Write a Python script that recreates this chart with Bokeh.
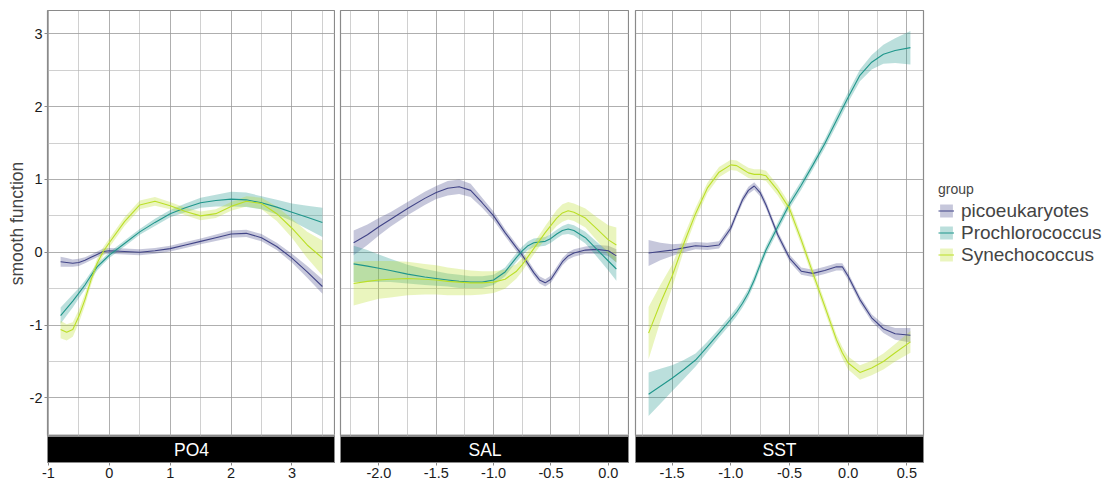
from bokeh.plotting import figure
from bokeh.models import (Range1d, FixedTicker, Grid, LinearAxis, Label, Legend,
                          LegendItem, ColumnDataSource, PrintfTickFormatter)
from bokeh.layouts import row, column
from bokeh.embed import file_html
from bokeh.resources import INLINE

# ---------------- data ----------------
groups = ["picoeukaryotes", "Prochlorococcus", "Synechococcus"]
colors = ["#414487", "#1F968B", "#BBDF27"]
panels = ["PO4", "SAL", "SST"]

y_ticks = [-2, -1, 0, 1, 2, 3]
y_minor = [-2.5, -1.5, -0.5, 0.5, 1.5, 2.5]

po4_ticks = [-1, 0, 1, 2, 3]
po4_minor = [-0.5, 0.5, 1.5, 2.5, 3.5]
sal_ticks = [-2.0, -1.5, -1.0, -0.5, 0.0]
sal_minor = [-2.25, -1.75, -1.25, -0.75, -0.25]
sst_ticks = [-1.5, -1.0, -0.5, 0.0, 0.5]
sst_minor = [-1.75, -1.25, -0.75, -0.25, 0.25]

po4_x = [-0.8, -0.7, -0.6, -0.5, -0.4, -0.3, -0.2, -0.1, 0.0, 0.25, 0.5, 0.75,
         1.0, 1.25, 1.5, 1.75, 2.0, 2.25, 2.5, 2.75, 3.0, 3.25, 3.5]
po4_pico = [-0.13, -0.14, -0.15, -0.14, -0.11, -0.07, -0.03, 0.01, 0.02, 0.01, 0.0, 0.02,
            0.05, 0.10, 0.15, 0.20, 0.25, 0.26, 0.20, 0.08, -0.08, -0.27, -0.47]
po4_pico_se = [0.07, 0.06, 0.05, 0.05, 0.04, 0.04, 0.04, 0.04, 0.04, 0.04, 0.04, 0.04,
               0.04, 0.04, 0.04, 0.045, 0.05, 0.05, 0.05, 0.05, 0.06, 0.08, 0.10]
po4_proc = [-0.87, -0.77, -0.67, -0.56, -0.45, -0.32, -0.20, -0.12, -0.04, 0.12, 0.28, 0.41,
            0.53, 0.61, 0.68, 0.71, 0.73, 0.72, 0.68, 0.62, 0.55, 0.48, 0.41]
po4_proc_se = [0.11, 0.10, 0.09, 0.07, 0.06, 0.05, 0.05, 0.04, 0.04, 0.04, 0.04, 0.05,
               0.05, 0.06, 0.07, 0.08, 0.10, 0.10, 0.09, 0.10, 0.12, 0.16, 0.20]
po4_syne = [-1.06, -1.10, -1.06, -0.88, -0.65, -0.38, -0.15, 0.01, 0.13, 0.42, 0.65, 0.70,
            0.64, 0.56, 0.50, 0.53, 0.63, 0.70, 0.67, 0.53, 0.33, 0.10, -0.08]
po4_syne_se = [0.12, 0.11, 0.10, 0.09, 0.08, 0.07, 0.06, 0.06, 0.06, 0.06, 0.06, 0.06,
               0.05, 0.05, 0.06, 0.06, 0.06, 0.07, 0.08, 0.10, 0.13, 0.18, 0.24]

sal_x = [-2.22, -2.1, -2.0, -1.9, -1.75, -1.6, -1.5, -1.4, -1.3, -1.2, -1.1, -1.0, -0.9, -0.8,
         -0.75, -0.7, -0.65, -0.6, -0.55, -0.5, -0.45, -0.4, -0.35, -0.3, -0.2, -0.1, 0.0, 0.07]
sal_pico = [0.13, 0.24, 0.35, 0.45, 0.60, 0.74, 0.82, 0.88, 0.90, 0.85, 0.68, 0.50, 0.27, 0.06,
            -0.04, -0.16, -0.28, -0.38, -0.42, -0.37, -0.25, -0.13, -0.05, -0.01, 0.03, 0.04, 0.02, -0.05]
sal_pico_se = [0.17, 0.14, 0.12, 0.10, 0.09, 0.09, 0.09, 0.10, 0.10, 0.09, 0.07, 0.06, 0.05, 0.05,
               0.05, 0.05, 0.05, 0.05, 0.05, 0.05, 0.05, 0.05, 0.05, 0.05, 0.05, 0.06, 0.07, 0.09]
sal_proc = [-0.16, -0.19, -0.22, -0.25, -0.30, -0.34, -0.36, -0.38, -0.40, -0.41, -0.41, -0.38, -0.27, -0.07,
            0.02, 0.09, 0.13, 0.14, 0.15, 0.19, 0.25, 0.30, 0.32, 0.30, 0.20, 0.04, -0.12, -0.23]
sal_proc_se = [0.25, 0.22, 0.19, 0.16, 0.13, 0.11, 0.10, 0.09, 0.09, 0.08, 0.08, 0.07, 0.06, 0.06,
               0.06, 0.06, 0.06, 0.06, 0.06, 0.06, 0.06, 0.06, 0.07, 0.07, 0.08, 0.10, 0.13, 0.16]
sal_syne = [-0.43, -0.40, -0.38, -0.37, -0.36, -0.37, -0.38, -0.40, -0.41, -0.42, -0.42, -0.41, -0.37, -0.26,
            -0.17, -0.06, 0.05, 0.16, 0.27, 0.37, 0.47, 0.54, 0.57, 0.55, 0.47, 0.32, 0.17, 0.10]
sal_syne_se = [0.30, 0.28, 0.26, 0.25, 0.23, 0.21, 0.20, 0.19, 0.18, 0.17, 0.16, 0.15, 0.13, 0.10,
               0.09, 0.08, 0.08, 0.08, 0.09, 0.10, 0.11, 0.12, 0.12, 0.12, 0.13, 0.16, 0.20, 0.24]

sst_x = [-1.7, -1.6, -1.5, -1.4, -1.3, -1.2, -1.1, -1.0, -0.95, -0.9, -0.85, -0.8, -0.75, -0.7,
         -0.6, -0.5, -0.4, -0.3, -0.2, -0.1, -0.05, 0.0, 0.1, 0.2, 0.3, 0.4, 0.53]
sst_pico = [-0.01, 0.01, 0.03, 0.06, 0.09, 0.08, 0.10, 0.33, 0.53, 0.72, 0.85, 0.91, 0.82, 0.65,
            0.24, -0.08, -0.26, -0.29, -0.25, -0.20, -0.20, -0.33, -0.65, -0.90, -1.05, -1.12, -1.14]
sst_pico_se = [0.18, 0.12, 0.08, 0.06, 0.05, 0.05, 0.05, 0.05, 0.05, 0.05, 0.05, 0.05, 0.05, 0.05,
               0.05, 0.05, 0.05, 0.05, 0.05, 0.05, 0.05, 0.05, 0.05, 0.05, 0.06, 0.08, 0.10]
sst_proc = [-1.95, -1.84, -1.73, -1.61, -1.48, -1.30, -1.11, -0.92, -0.82, -0.70, -0.56, -0.38, -0.17, 0.03,
            0.35, 0.66, 0.92, 1.20, 1.49, 1.81, 1.97, 2.13, 2.43, 2.61, 2.72, 2.77, 2.81]
sst_proc_se = [0.30, 0.24, 0.18, 0.13, 0.09, 0.07, 0.06, 0.06, 0.06, 0.06, 0.06, 0.06, 0.06, 0.06,
               0.06, 0.06, 0.06, 0.06, 0.06, 0.07, 0.07, 0.07, 0.08, 0.10, 0.13, 0.17, 0.23]
sst_syne = [-1.11, -0.70, -0.33, 0.12, 0.53, 0.88, 1.10, 1.20, 1.19, 1.14, 1.09, 1.07, 1.07, 1.05,
            0.85, 0.60, 0.17, -0.29, -0.74, -1.20, -1.38, -1.52, -1.65, -1.59, -1.50, -1.38, -1.23]
sst_syne_se = [0.36, 0.25, 0.16, 0.10, 0.08, 0.07, 0.07, 0.07, 0.07, 0.07, 0.07, 0.07, 0.07, 0.07,
               0.07, 0.07, 0.07, 0.07, 0.07, 0.07, 0.08, 0.09, 0.10, 0.10, 0.11, 0.12, 0.15]

panel_data = {
    "PO4": (po4_x, [(po4_pico, po4_pico_se), (po4_proc, po4_proc_se), (po4_syne, po4_syne_se)],
            po4_ticks, po4_minor, "%d"),
    "SAL": (sal_x, [(sal_pico, sal_pico_se), (sal_proc, sal_proc_se), (sal_syne, sal_syne_se)],
            sal_ticks, sal_minor, "%.1f"),
    "SST": (sst_x, [(sst_pico, sst_pico_se), (sst_proc, sst_proc_se), (sst_syne, sst_syne_se)],
            sst_ticks, sst_minor, "%.1f"),
}

# ---------------- styling ----------------
FONT = "Liberation Sans"
FRAME_W = [288, 289, 288]
FRAME_H = 426
STRIP_H = 26
BORDER_C = "#8a8a8a"
TICK_FS = "14.5px"
left_borders = [47, 5, 6]
y_range = Range1d(-2.53, 3.32)


def expanded(xs):
    lo, hi = min(xs), max(xs)
    pad = (hi - lo) * 0.05
    return Range1d(lo - pad, hi + pad)


columns = []
for i, name in enumerate(panels):
    xs, series, ticks, minor, fmt = panel_data[name]
    xr = expanded(xs)
    right_border = 191 if i == 2 else 0
    p = figure(x_range=xr, y_range=y_range, frame_width=FRAME_W[i], frame_height=FRAME_H,
               min_border_left=left_borders[i], min_border_right=right_border,
               min_border_top=10, min_border_bottom=0,
               x_axis_location=None, y_axis_location=None,
               toolbar_location=None, output_backend="svg")
    p.center = []
    p.outline_line_color = BORDER_C
    p.outline_line_width = 1.2
    p.background_fill_color = "white"
    p.border_fill_color = "white"
    xg = Grid(dimension=0, ticker=FixedTicker(ticks=ticks, minor_ticks=minor),
              grid_line_color="#9a9a9a", grid_line_width=0.8,
              minor_grid_line_color="#b0b0b0", minor_grid_line_width=0.6)
    yg = Grid(dimension=1, ticker=FixedTicker(ticks=y_ticks, minor_ticks=y_minor),
              grid_line_color="#9a9a9a", grid_line_width=0.8,
              minor_grid_line_color="#b0b0b0", minor_grid_line_width=0.6)
    p.add_layout(xg, "center")
    p.add_layout(yg, "center")

    bands, lines = [], []
    for (fit, se), col in zip(series, colors):
        src = ColumnDataSource(dict(x=xs, fit=fit,
                                    lo=[f - s for f, s in zip(fit, se)],
                                    hi=[f + s for f, s in zip(fit, se)]))
        b = p.varea(x="x", y1="lo", y2="hi", source=src, fill_color=col, fill_alpha=0.3)
        bands.append((b, src))
    for (b, src), col in zip(bands, colors):
        l = p.line(x="x", y="fit", source=src, line_color=col, line_width=1.1)
        lines.append(l)

    if i == 0:
        yax = LinearAxis(ticker=FixedTicker(ticks=y_ticks, minor_ticks=[]),
                         axis_label="smooth function",
                         axis_label_text_font=FONT, axis_label_text_font_size="17.5px",
                         axis_label_text_font_style="normal", axis_label_standoff=0,
                         axis_line_color=None, major_tick_line_color=BORDER_C,
                         major_tick_in=0, major_tick_out=3, minor_tick_line_color=None,
                         major_label_text_font=FONT, major_label_text_font_size=TICK_FS,
                         major_label_text_color="#1a1a1a", major_label_standoff=2,
                         formatter=PrintfTickFormatter(format="%d"))
        p.add_layout(yax, "left")

    if i == 2:
        legend_items = [LegendItem(label=g, renderers=[b, l])
                        for g, (b, _), l in zip(groups, bands, lines)]
        leg = Legend(items=legend_items, title="group", location="left",
                     title_text_font=FONT, title_text_font_size="14px",
                     title_text_font_style="normal", title_standoff=3,
                     label_text_font=FONT, label_text_font_size="19px",
                     glyph_width=16, glyph_height=16, label_height=16,
                     label_standoff=7, spacing=0, padding=2, margin=15,
                     border_line_color=None, background_fill_alpha=0)
        p.add_layout(leg, "right")

    # facet strip with x axis below
    s = figure(x_range=xr, y_range=Range1d(0, 1), frame_width=FRAME_W[i], frame_height=STRIP_H,
               min_border_left=left_borders[i], min_border_right=right_border,
               min_border_top=0, min_border_bottom=22,
               x_axis_location=None, y_axis_location=None,
               toolbar_location=None, output_backend="svg")
    s.center = []
    s.background_fill_color = "black"
    s.border_fill_color = "white"
    s.outline_line_color = BORDER_C
    xax = LinearAxis(ticker=FixedTicker(ticks=ticks, minor_ticks=[]),
                     formatter=PrintfTickFormatter(format=fmt),
                     axis_line_color=None, major_tick_line_color=BORDER_C,
                     major_tick_in=0, major_tick_out=3, minor_tick_line_color=None,
                     major_label_text_font=FONT, major_label_text_font_size=TICK_FS,
                     major_label_text_color="#1a1a1a", major_label_standoff=2)
    s.add_layout(xax, "below")
    s.add_layout(Label(x=(xr.start + xr.end) / 2, y=0.5, text=name, text_color="white",
                       text_align="center", text_baseline="middle",
                       text_font=FONT, text_font_size="17.5px"))
    columns.append(column(p, s, spacing=0))

layout = row(*columns, spacing=0)
open("out.html", "w").write(file_html(layout, INLINE))
